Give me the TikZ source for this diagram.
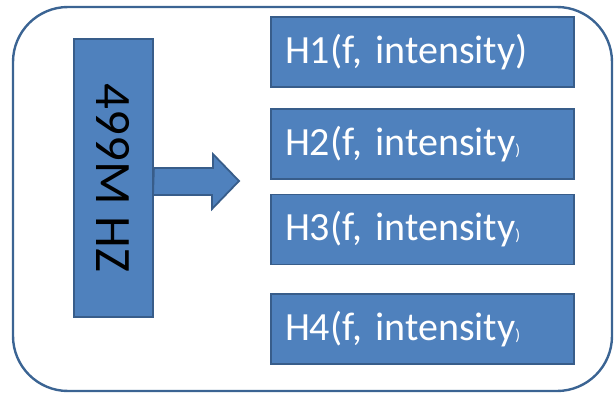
\documentclass[tikz,border=0pt]{standalone}
\usepackage{fontspec}
\setmainfont{Carlito}
\usetikzlibrary{positioning}
\definecolor{boxblue}{HTML}{4F81BD}
\definecolor{boxline}{HTML}{385D8A}
\definecolor{frameline}{HTML}{3B6493}
\newcommand{\smallparen}{{\fontsize{16}{16}\selectfont )}}
\begin{document}
\begin{tikzpicture}[x=1pt, y=1pt, line join=miter,
  blue box/.style={rectangle,draw=boxline,fill=boxblue,line width=1.8pt,inner sep=0pt},
  harm box/.style={blue box,minimum width=303pt,minimum height=70pt,text width=275pt,align=left,text=white,font=\fontsize{40}{40}\selectfont},
  block arrow/.style={draw=boxline,fill=boxblue,line width=1.8pt}]
\useasboundingbox (0,0) rectangle (614,392);
% outer frame
\draw[frameline, line width=2.4pt, rounded corners=55pt] (13,1) rectangle (612,385);
\begin{scope}
\node[blue box, minimum width=278pt, minimum height=79pt, rotate=-90, font=\fontsize{51}{51}\selectfont] (src) at (113.5,214) {499M HZ};
\node[harm box] (h1) at (422.5,340) {H1(f, intensity)};
\node[harm box] (h2) at (422.5,248) {H2(f, intensity\smallparen};
\node[harm box] (h3) at (422.5,162.5) {H3(f, intensity\smallparen};
\node[harm box] (h4) at (422.5,63) {H4(f, intensity\smallparen};
%\node[harm box] (h) at (,) {};
\end{scope}
\coordinate (tip) at (239,211);
\draw[block arrow] ([yshift=10pt]src.north) -- ++(59,0) -- ++(0,14) -- (tip) -- ++(-27,-28) -- ++(0,14) -- ++(-59,0) -- cycle;
\end{tikzpicture}
\end{document}
